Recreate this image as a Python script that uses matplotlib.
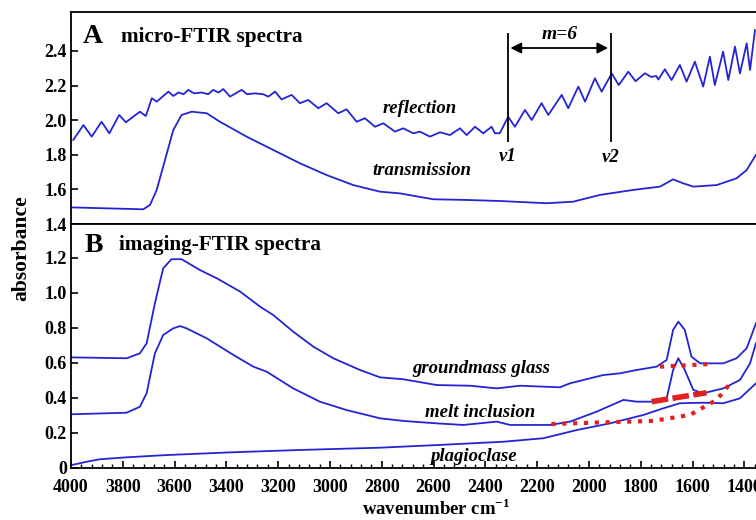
import matplotlib
matplotlib.use('Agg')
import matplotlib.pyplot as plt
from matplotlib.ticker import MultipleLocator

plt.rcParams['font.family'] = ['Liberation Serif', 'DejaVu Serif']
plt.rcParams['font.weight'] = 'bold'
plt.rcParams['mathtext.fontset'] = 'custom'
plt.rcParams['mathtext.rm'] = 'Liberation Serif:bold'
plt.rcParams['mathtext.bf'] = 'Liberation Serif:bold'

# ---- panel A: micro-FTIR ----
refl_w = [3991, 3952, 3920, 3882, 3852, 3814, 3788, 3734, 3711, 3688, 3669, 3624,
          3605, 3585, 3565, 3547, 3525, 3495, 3470, 3451, 3430, 3412, 3386, 3370,
          3341, 3320, 3290, 3258, 3238, 3212, 3187, 3148, 3116, 3084, 3045, 3013,
          2968, 2936, 2897, 2865, 2826, 2794, 2749, 2717, 2678, 2653, 2614, 2575,
          2537, 2498, 2472, 2440, 2408, 2376, 2363, 2344, 2312, 2286, 2247, 2221,
          2183, 2157, 2105, 2080, 2041, 2015, 1977, 1951, 1912, 1885, 1848, 1820,
          1784, 1760, 1740, 1732, 1707, 1681, 1649, 1623, 1591, 1559, 1533, 1514,
          1482, 1462, 1436, 1417, 1391, 1378, 1359]
refl_a = [1.886, 1.972, 1.905, 1.991, 1.924, 2.030, 1.988, 2.049, 2.024, 2.127, 2.107, 2.165,
          2.140, 2.160, 2.150, 2.175, 2.155, 2.160, 2.150, 2.175, 2.160, 2.180, 2.136, 2.150,
          2.175, 2.150, 2.155, 2.150, 2.136, 2.165, 2.120, 2.146, 2.098, 2.117, 2.069, 2.098,
          2.040, 2.063, 1.991, 2.011, 1.962, 1.982, 1.934, 1.953, 1.924, 1.934, 1.905, 1.930,
          1.914, 1.953, 1.914, 1.962, 1.924, 1.962, 1.924, 1.925, 2.020, 1.962, 2.059, 2.001,
          2.098, 2.030, 2.146, 2.069, 2.194, 2.107, 2.242, 2.165, 2.270, 2.203, 2.280, 2.225,
          2.271, 2.250, 2.255, 2.235, 2.294, 2.232, 2.319, 2.223, 2.338, 2.194, 2.367, 2.203,
          2.396, 2.232, 2.425, 2.270, 2.444, 2.290, 2.520]

trans_w = [3997, 3849, 3721, 3695, 3669, 3637, 3605, 3573, 3534, 3476, 3425, 3322,
           3219, 3116, 3013, 2910, 2807, 2730, 2601, 2472, 2344, 2163, 2061, 1958,
           1829, 1726, 1675, 1636, 1597, 1507, 1430, 1391, 1355]
trans_a = [1.496, 1.490, 1.485, 1.510, 1.597, 1.770, 1.943, 2.030, 2.049, 2.040, 1.991, 1.905,
           1.828, 1.751, 1.683, 1.625, 1.587, 1.577, 1.543, 1.539, 1.533, 1.520, 1.529, 1.568,
           1.597, 1.616, 1.658, 1.635, 1.616, 1.625, 1.664, 1.712, 1.800]

v1, v2 = 2314, 1915

# ---- panel B: imaging-FTIR ----
glass_w = [3997, 3785, 3734, 3708, 3676, 3644, 3612, 3573, 3502, 3437, 3347, 3270,
           3219, 3142, 3064, 2987, 2884, 2807, 2717, 2588, 2459, 2356, 2266, 2112,
           2073, 1945, 1880, 1816, 1739, 1700, 1675, 1655, 1630, 1604, 1571, 1481,
           1430, 1391, 1355]
glass_a = [0.632, 0.627, 0.655, 0.712, 0.941, 1.141, 1.193, 1.193, 1.131, 1.084, 1.008, 0.922,
           0.874, 0.779, 0.693, 0.627, 0.560, 0.518, 0.507, 0.474, 0.470, 0.455, 0.470, 0.461,
           0.484, 0.531, 0.541, 0.560, 0.579, 0.617, 0.789, 0.836, 0.789, 0.636, 0.598, 0.598,
           0.627, 0.684, 0.827]

melt_w = [3997, 3785, 3734, 3708, 3676, 3644, 3605, 3579, 3554, 3476, 3373, 3296,
          3244, 3142, 3039, 2936, 2807, 2717, 2588, 2485, 2356, 2305, 2150, 2073,
          1970, 1867, 1816, 1739, 1700, 1675, 1655, 1630, 1597, 1559, 1481, 1417,
          1378, 1355]
melt_a = [0.307, 0.316, 0.350, 0.427, 0.655, 0.760, 0.798, 0.811, 0.798, 0.741, 0.646, 0.579,
          0.550, 0.455, 0.379, 0.331, 0.284, 0.269, 0.255, 0.246, 0.265, 0.246, 0.246, 0.265,
          0.322, 0.389, 0.379, 0.379, 0.398, 0.560, 0.627, 0.560, 0.446, 0.427, 0.455, 0.503,
          0.598, 0.713]

plag_w = [3997, 3939, 3888, 3785, 3630, 3373, 3116, 2807, 2588, 2331, 2176, 2047,
          1919, 1790, 1713, 1649, 1559, 1481, 1417, 1355]
plag_a = [0.017, 0.036, 0.050, 0.061, 0.074, 0.090, 0.103, 0.116, 0.131, 0.150, 0.170, 0.217,
          0.255, 0.303, 0.341, 0.370, 0.373, 0.370, 0.398, 0.484]

# red baselines
base_glass_w = [1726, 1533]
base_glass_a = [0.579, 0.594]
base_melt_w = [1758, 1546]
base_melt_a = [0.379, 0.430]
base_wide_w = [2145, 1945, 1752, 1610, 1507, 1449]
base_wide_a = [0.251, 0.261, 0.269, 0.303, 0.389, 0.493]

blue = '#2424d2'
red = '#e0211f'
xlim = (4000, 1355)

fig = plt.figure(figsize=(7.56, 5.2), dpi=100)
axA = fig.add_axes([0.0939, 0.5692, 0.9061, 0.4077])
axB = fig.add_axes([0.0939, 0.1, 0.9061, 0.4692])

for ax in (axA, axB):
	ax.set_xlim(*xlim)
	ax.spines['right'].set_visible(False)
	for s in ('left', 'top', 'bottom'):
		ax.spines[s].set_linewidth(1.3)
	ax.tick_params(direction='in', labelsize=13, width=1.2, length=5)
	ax.tick_params(axis='y', pad=3)

line_kw = dict(color=blue, lw=1.3, solid_joinstyle='round')

# panel A
axA.plot(refl_w, refl_a, **line_kw)
axA.plot(trans_w, trans_a, **line_kw)
axA.set_ylim(1.4, 2.625)
axA.set_yticks([1.4, 1.6, 1.8, 2.0, 2.2, 2.4])
axA.tick_params(axis='x', bottom=False, labelbottom=False)
axA.vlines([v1, v2], 1.874, 2.504, color='black', lw=1.3)
axA.annotate('', xy=(v1, 2.417), xytext=(v2, 2.417),
	arrowprops=dict(arrowstyle='<|-|>', color='black', lw=1.3, mutation_scale=16))
axA.text((v1 + v2) / 2, 2.445, 'm=6', style='italic', fontsize=14, ha='center', va='bottom')
axA.text(v1, 1.79, 'v1', style='italic', fontsize=13.5, ha='center', va='center')
axA.text(v2, 1.785, 'v2', style='italic', fontsize=13.5, ha='center', va='center')
axA.text(2652, 2.07, 'reflection', style='italic', fontsize=13.5, ha='center', va='center')
axA.text(2646, 1.712, 'transmission', style='italic', fontsize=13.5, ha='center', va='center')
axA.text(0.0175, 0.855, 'A', transform=axA.transAxes, fontsize=20, va='baseline')
axA.text(0.0726, 0.86, 'micro-FTIR spectra', transform=axA.transAxes, fontsize=15.3, va='baseline')

# panel B
axB.plot(glass_w, glass_a, **line_kw)
axB.plot(melt_w, melt_a, **line_kw)
axB.plot(plag_w, plag_a, **line_kw)
axB.plot(base_glass_w, base_glass_a, color=red, lw=3, linestyle=(0, (1, 1.6)))
axB.plot(base_melt_w, base_melt_a, color=red, lw=4, linestyle=(0, (3, 0.8)))
axB.plot(base_wide_w, base_wide_a, color=red, lw=3, linestyle=(0, (1, 1.6)))
axB.set_ylim(0, 1.394)
axB.set_yticks([0, 0.2, 0.4, 0.6, 0.8, 1.0, 1.2])
axB.set_yticklabels(['0', '0.2', '0.4', '0.6', '0.8', '1.0', '1.2'])
axB.xaxis.set_major_locator(MultipleLocator(200))
axB.xaxis.set_minor_locator(MultipleLocator(40))
axB.tick_params(axis='x', which='minor', direction='in', length=3, width=1.0)
axB.tick_params(axis='x', which='major', pad=8)
axB.text(2414, 0.57, 'groundmass glass', style='italic', fontsize=13.5, ha='center', va='center')
axB.text(2421, 0.316, 'melt inclusion', style='italic', fontsize=13.5, ha='center', va='center')
axB.text(2447, 0.065, 'plagioclase', style='italic', fontsize=13.5, ha='center', va='center')
axB.text(0.0204, 0.885, 'B', transform=axB.transAxes, fontsize=20, va='baseline')
axB.text(0.07, 0.893, 'imaging-FTIR spectra', transform=axB.transAxes, fontsize=15.3, va='baseline')

fig.text(0.028, 0.523, 'absorbance', rotation=90, fontsize=15.5, ha='center', va='center')
fig.text(0.577, 0.01, 'wavenumber cm$^{-1}$', fontsize=13.5, ha='center', va='baseline')

fig.savefig('out.png', dpi=100)
